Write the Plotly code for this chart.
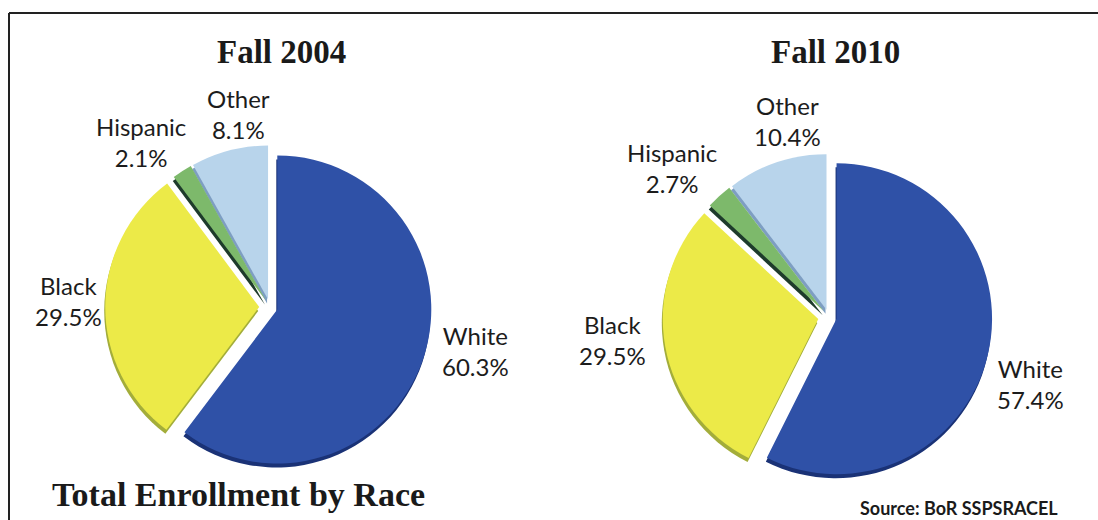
import plotly.graph_objects as go

# Enrollment shares by race (percent)
categories = ["White", "Black", "Hispanic", "Other"]
fall_2004 = [60.3, 29.5, 2.1, 8.1]
fall_2010 = [57.4, 29.5, 2.7, 10.4]
years = ["Fall 2004", "Fall 2010"]

W, H = 1098, 520

face_colors = ["#2F51A7", "#ECEA48", "#7DB96B", "#B8D4EB"]
edge_colors = ["#1A3276", "#A3AD3A", "#1E3B2B", "#7E9EC2"]
pulls = [0.05, 0.07, 0.05, 0.05]

# pixel layout of each pie: centre and slice radius
pie_geom = [
    {"cx": 270, "cy": 307, "r": 154},
    {"cx": 829, "cy": 317, "r": 155.5},
]
# label block centres, in category order
label_pos = [
    [(475, 351), (68, 301), (141, 142), (238, 114)],
    [(1030, 384), (612, 340), (672, 168), (788, 121)],
]
title_pos = [(281, 52), (835, 52)]


def domain_for(cx, cy, r, dy=0):
    d = 2 * r * (1 + max(pulls))
    return dict(
        x=[(cx - d / 2) / W, (cx + d / 2) / W],
        y=[1 - (cy + dy + d / 2) / H, 1 - (cy + dy - d / 2) / H],
    )


fig = go.Figure()
annotations = []
for i, values in enumerate([fall_2004, fall_2010]):
    g = pie_geom[i]
    # darker copy underneath, shifted down, gives the slices a thick edge
    fig.add_trace(go.Pie(
        labels=categories, values=values, sort=False, direction="clockwise",
        rotation=0, pull=pulls, textinfo="none", hoverinfo="skip",
        marker=dict(colors=edge_colors, line=dict(width=0)),
        domain=domain_for(g["cx"] - 1, g["cy"], g["r"], dy=4), showlegend=False,
    ))
    fig.add_trace(go.Pie(
        labels=categories, values=values, sort=False, direction="clockwise",
        rotation=0, pull=pulls, textinfo="none", name=years[i],
        marker=dict(colors=face_colors, line=dict(width=0)),
        domain=domain_for(g["cx"], g["cy"], g["r"]), showlegend=False,
    ))
    for cat, val, (lx, ly) in zip(categories, values, label_pos[i]):
        annotations.append(dict(
            x=lx / W, y=1 - ly / H, xref="paper", yref="paper",
            text=f"{cat}<br>{val:.1f}%", showarrow=False,
            xanchor="center", yanchor="middle", align="center",
            font=dict(family="Lato", size=24, color="#1c1c1c"),
        ))
    tx, ty = title_pos[i]
    annotations.append(dict(
        x=tx / W, y=1 - ty / H, xref="paper", yref="paper",
        text=f"<b>{years[i]}</b>", showarrow=False,
        xanchor="center", yanchor="middle",
        font=dict(family="Liberation Serif", size=33, color="#1a1a1a"),
    ))

annotations.append(dict(
    x=238 / W, y=1 - 494 / H, xref="paper", yref="paper",
    text="<b>Total Enrollment by Race</b>", showarrow=False,
    xanchor="center", yanchor="middle",
    font=dict(family="Liberation Serif", size=34, color="#1a1a1a"),
))
annotations.append(dict(
    x=959 / W, y=1 - 508 / H, xref="paper", yref="paper",
    text="<b>Source: BoR SSPSRACEL</b>", showarrow=False,
    xanchor="center", yanchor="middle",
    font=dict(family="Lato", size=18, color="#1a1a1a"),
))

# frame: top and left rules
shapes = [
    dict(type="line", xref="paper", yref="paper", x0=9 / W, x1=1.0,
         y0=1 - 13 / H, y1=1 - 13 / H, line=dict(color="#222222", width=2)),
    dict(type="line", xref="paper", yref="paper", x0=9 / W, x1=9 / W,
         y0=1 - 13 / H, y1=0, line=dict(color="#222222", width=2)),
]

fig.update_layout(
    width=W, height=H, margin=dict(l=0, r=0, t=0, b=0),
    paper_bgcolor="white", plot_bgcolor="white",
    annotations=annotations, shapes=shapes, showlegend=False,
)

fig.write_html("out.html")
